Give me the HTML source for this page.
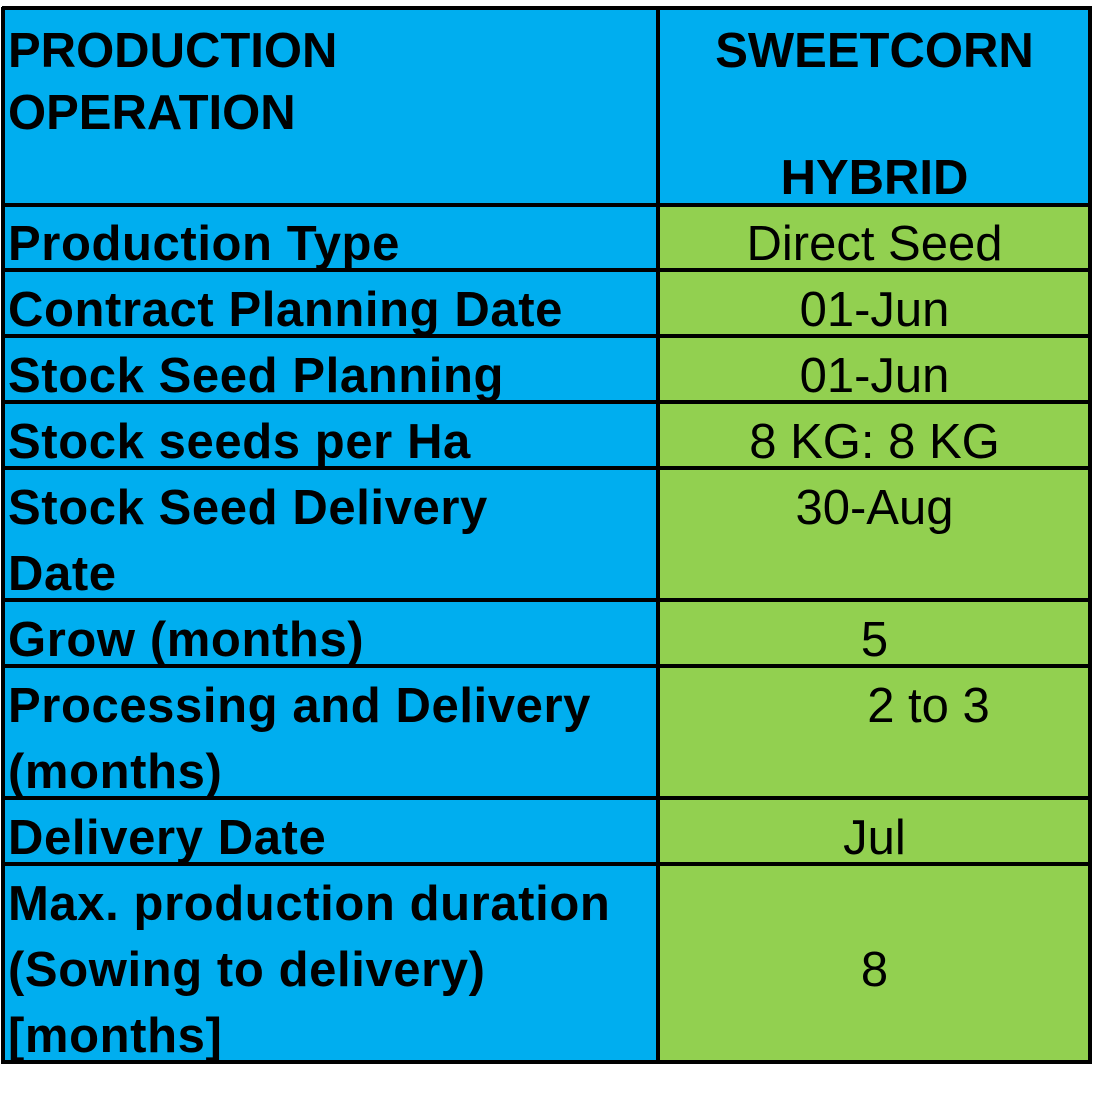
<!DOCTYPE html>
<html><head><meta charset="utf-8"><style>
body{margin:0;width:1095px;height:1093px;background:#fff;position:relative;overflow:hidden;font-family:"Liberation Sans",Arial,sans-serif;}
.b{position:absolute;background:#00AEEF}
.g{position:absolute;background:#92D050}
.h{position:absolute;background:#000;left:2px;width:1090px;height:4px}
.v{position:absolute;background:#000;top:7px;width:4px;height:1057px}
.t{position:absolute;font-size:49px;line-height:66px;white-space:nowrap;color:#000}
.L{left:8px;font-weight:bold;letter-spacing:0.6px}
.R{left:660px;width:429px;text-align:center}
</style></head><body>
<div class="b" style="left:2px;top:7px;width:1090px;height:200px"></div>
<div class="b" style="left:2px;top:205px;width:658px;height:858px"></div>
<div class="g" style="left:658px;top:205px;width:434px;height:858px"></div>
<div class="h" style="top:6px"></div>
<div class="h" style="top:203px"></div>
<div class="h" style="top:268px"></div>
<div class="h" style="top:334px"></div>
<div class="h" style="top:400px"></div>
<div class="h" style="top:466px"></div>
<div class="h" style="top:598px"></div>
<div class="h" style="top:664px"></div>
<div class="h" style="top:796px"></div>
<div class="h" style="top:862px"></div>
<div class="h" style="top:1060px"></div>
<div class="v" style="left:1px"></div>
<div class="v" style="left:656px"></div>
<div class="v" style="left:1088px"></div>

<div class="t L" style="top:18px;letter-spacing:0">PRODUCTION</div>
<div class="t L" style="top:80px;letter-spacing:0">OPERATION</div>
<div class="t R" style="top:18px;font-weight:bold">SWEETCORN</div>
<div class="t R" style="top:145px;font-weight:bold">HYBRID</div>

<div class="t L" style="top:211px">Production Type</div>
<div class="t R" style="top:211px">Direct Seed</div>
<div class="t L" style="top:277px">Contract Planning Date</div>
<div class="t R" style="top:277px">01-Jun</div>
<div class="t L" style="top:343px">Stock Seed Planning</div>
<div class="t R" style="top:343px">01-Jun</div>
<div class="t L" style="top:409px">Stock seeds per Ha</div>
<div class="t R" style="top:409px">8 KG: 8 KG</div>
<div class="t L" style="top:475px">Stock Seed Delivery</div>
<div class="t L" style="top:541px">Date</div>
<div class="t R" style="top:475px">30-Aug</div>
<div class="t L" style="top:607px">Grow (months)</div>
<div class="t R" style="top:607px">5</div>
<div class="t L" style="top:673px">Processing and Delivery</div>
<div class="t L" style="top:739px">(months)</div>
<div class="t R" style="top:673px;left:714px">2 to 3</div>
<div class="t L" style="top:805px">Delivery Date</div>
<div class="t R" style="top:805px">Jul</div>
<div class="t L" style="top:871px">Max. production duration</div>
<div class="t L" style="top:937px">(Sowing to delivery)</div>
<div class="t L" style="top:1003px">[months]</div>
<div class="t R" style="top:937px">8</div>
</body></html>
